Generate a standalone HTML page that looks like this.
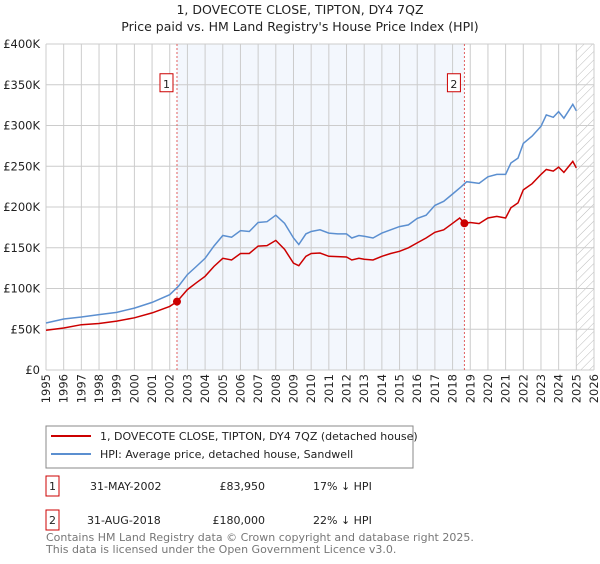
<!DOCTYPE html>
<html><head><meta charset="utf-8"><style>
body{margin:0;background:#fff;font-family:"DejaVu Sans","Liberation Sans",sans-serif;}
svg text{font-family:"DejaVu Sans","Liberation Sans",sans-serif;}
</style></head><body>
<svg id="c" width="600" height="560" xmlns="http://www.w3.org/2000/svg">
<defs><pattern id="hatch" width="6" height="6" patternUnits="userSpaceOnUse" patternTransform="rotate(45)"><line x1="0" y1="0" x2="0" y2="6" stroke="#bbb" stroke-width="1"/></pattern></defs>
<text x="300" y="14" text-anchor="middle" font-size="12.5" fill="#222">1, DOVECOTE CLOSE, TIPTON, DY4 7QZ</text>
<text x="300" y="31" text-anchor="middle" font-size="12.5" fill="#222">Price paid vs. HM Land Registry's House Price Index (HPI)</text>
<g id="plot"></g>
<g>
<rect x="46" y="426" width="367" height="42" fill="#fff" stroke="#888"/>
<line x1="51" y1="436" x2="91" y2="436" stroke="#cc0000" stroke-width="2"/>
<text x="100" y="440" font-size="11" fill="#222">1, DOVECOTE CLOSE, TIPTON, DY4 7QZ (detached house)</text>
<line x1="51" y1="454" x2="91" y2="454" stroke="#5b8fd0" stroke-width="2"/>
<text x="100" y="458" font-size="11" fill="#222">HPI: Average price, detached house, Sandwell</text>
</g>
<g font-size="11" fill="#222">
<rect x="46" y="476" width="13" height="20" fill="#fff" stroke="#cc0000"/>
<text x="52.5" y="490" text-anchor="middle">1</text>
<text x="90" y="490">31-MAY-2002</text>
<text x="265" y="490" text-anchor="end">£83,950</text>
<text x="313" y="490">17% ↓ HPI</text>
<rect x="46" y="510" width="13" height="20" fill="#fff" stroke="#cc0000"/>
<text x="52.5" y="524" text-anchor="middle">2</text>
<text x="87" y="524">31-AUG-2018</text>
<text x="265" y="524" text-anchor="end">£180,000</text>
<text x="313" y="524">22% ↓ HPI</text>
</g>
<text x="46" y="541" font-size="11" fill="#777">Contains HM Land Registry data © Crown copyright and database right 2025.</text>
<text x="46" y="553" font-size="11" fill="#777">This data is licensed under the Open Government Licence v3.0.</text>
</svg>
<script>
const hpiYears=[1995,1996,1997,1998,1999,2000,2001,2002,2002.5,2003,2003.5,2004,2004.5,2005,2005.5,2006,2006.5,2007,2007.5,2008,2008.5,2009,2009.3,2009.7,2010,2010.5,2011,2011.5,2012,2012.3,2012.7,2013,2013.5,2014,2014.5,2015,2015.5,2016,2016.5,2017,2017.5,2018,2018.5,2018.8,2019.5,2020,2020.5,2021,2021.3,2021.7,2022,2022.5,2023,2023.3,2023.7,2024,2024.3,2024.8,2025];
const hpiValues=[57.7,62.6,65,68,70.7,76,83,92.4,103,117,127,137,152,165,163,171,170,181,182,190,180,162,154,167,170,172,168,167,167,162,165,164,162,168,172,176,178,186,190,202,207,216,225,231,229,237,240,240,254,260,278,287,299,313,310,317,309,326,318];
const ppYears=[1995,1996,1997,1998,1999,2000,2001,2002,2002.41,2003,2003.5,2004,2004.5,2005,2005.5,2006,2006.5,2007,2007.5,2008,2008.5,2009,2009.3,2009.7,2010,2010.5,2011,2012,2012.3,2012.7,2013,2013.5,2014,2014.5,2015,2015.5,2016,2016.5,2017,2017.5,2018,2018.4,2018.67,2019,2019.5,2020,2020.5,2021,2021.3,2021.7,2022,2022.5,2023,2023.3,2023.7,2024,2024.3,2024.8,2025];
const ppValues=[48.7,51.5,55.6,57,60,64,70,78,83.95,98.6,107,115,127,137,135,143,143,152,152.6,159,148,131,128,139.5,143,143.6,139.5,138.7,135,137,136,135,139.5,143,145.6,150,156,162,169,172,180,186.5,180,181,179.6,186.5,188.5,186.5,199,205,221,228.6,240,246,244,249,242.5,256,248];
const saleYears=[2002.41,2018.67];
const saleValues=[83.95,180];
const saleLabels=["1","2"];
const yTicks=[0,50,100,150,200,250,300,350,400];
const yTickLabels=["£0","£50K","£100K","£150K","£200K","£250K","£300K","£350K","£400K"];
const xTicks=[1995,1996,1997,1998,1999,2000,2001,2002,2003,2004,2005,2006,2007,2008,2009,2010,2011,2012,2013,2014,2015,2016,2017,2018,2019,2020,2021,2022,2023,2024,2025,2026];

const L=46,R=594,T=44,B=370;
const xs=y=>L+(y-1995)/(2026-1995)*(R-L);
const ys=v=>B-v/400*(B-T);
const NS="http://www.w3.org/2000/svg";
const g=document.getElementById('plot');
function mk(tag,attrs,parent){const e=document.createElementNS(NS,tag);for(const k in attrs)e.setAttribute(k,attrs[k]);(parent||g).appendChild(e);return e;}
const bg=mk('rect',{x:L,y:T,width:R-L,height:B-T,fill:'#fff'});


const sh=mk('rect',{x:xs(saleYears[0]),y:T,width:xs(saleYears[1])-xs(saleYears[0]),height:B-T,fill:'#eef3fc',opacity:0.7});


const ht=mk('rect',{x:xs(2025),y:T,width:R-xs(2025),height:B-T,fill:'url(#hatch)'});


xTicks.forEach(t=>{
  const l=mk('line',{x1:xs(t),x2:xs(t),y1:T,y2:B,stroke:'#ccc','stroke-width':1});
  
  
  const tx=mk('text',{x:0,y:0,'font-size':11.5,fill:'#222','text-anchor':'end',transform:`translate(${xs(t)+4},${B+4}) rotate(-90)`});
  tx.textContent=t;
  
  
});
yTicks.forEach((t,i)=>{
  const l=mk('line',{x1:L,x2:R,y1:ys(t),y2:ys(t),stroke:'#ccc','stroke-width':1});
  
  
  const tx=mk('text',{x:L-6,y:ys(t)+4,'font-size':11.5,fill:'#222','text-anchor':'end'});
  tx.textContent=yTickLabels[i];
  
  
});
saleYears.forEach((y,i)=>{
  const l=mk('line',{x1:xs(y),x2:xs(y),y1:T,y2:B,stroke:'#e06060','stroke-width':1,'stroke-dasharray':'2,2'});
  
  
  const r=mk('rect',{x:xs(y)-17,y:ys(350)-11,width:13,height:18,fill:'#fff',stroke:'#cc0000'});
  
  
  const tx=mk('text',{x:xs(y)-10.5,y:ys(350)+3,'font-size':11,fill:'#222','text-anchor':'middle'});
  tx.textContent=saleLabels[i];
  
  
});
function path(xa,va,col,name){
  const d=xa.map((x,i)=>(i?'L':'M')+xs(x).toFixed(1)+','+ys(va[i]).toFixed(1)).join('');
  const p=mk('path',{d:d,fill:'none',stroke:col,'stroke-width':1.5});
  
  
}
path(hpiYears,hpiValues,'#5b8fd0','hpi-line');
path(ppYears,ppValues,'#cc0000','price-paid-line');
saleYears.forEach((y,i)=>{
  const c=mk('circle',{cx:xs(y),cy:ys(saleValues[i]),r:4,fill:'#cc0000'});
  
  
});
</script>
</body></html>
